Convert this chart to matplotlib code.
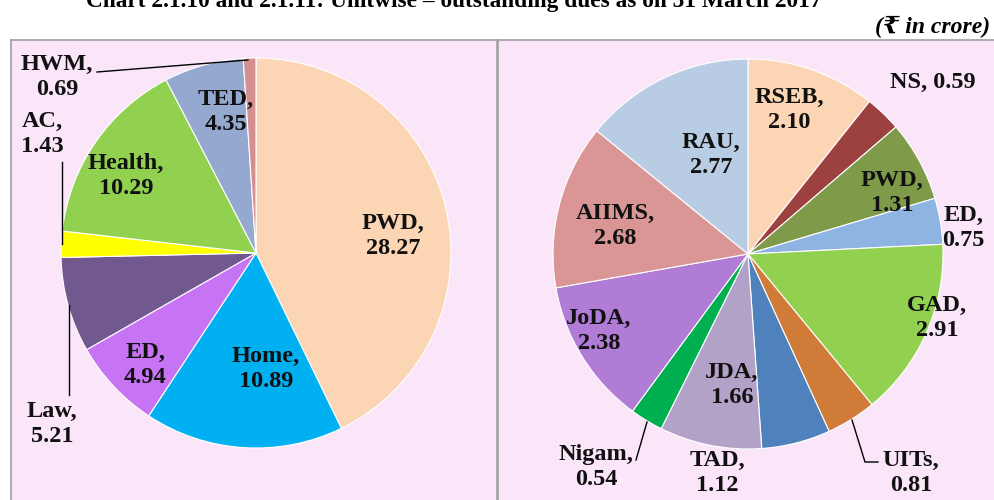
import matplotlib.pyplot as plt

# figure laid out in pixel units (995 x 500), y measured upward
W, H = 995, 500

# left pie: department-wise dues
left_labels = ['PWD', 'Home', 'ED', 'Law', 'AC', 'Health', 'TED', 'HWM']
left_values = [28.27, 10.89, 4.94, 5.21, 1.43, 10.29, 4.35, 0.69]
left_colors = ['#FCD5B5', '#00B0F0', '#C674F4', '#71598F', '#FFFF00',
               '#92D050', '#95A9D0', '#D48F91']

# right pie: unit-wise dues
right_labels = ['RSEB', 'NS', 'PWD', 'ED', 'GAD', 'UITs', 'TAD', 'JDA',
                'Nigam', 'JoDA', 'AIIMS', 'RAU']
right_values = [2.10, 0.59, 1.31, 0.75, 2.91, 0.81, 1.12, 1.66,
                0.54, 2.38, 2.68, 2.77]
right_colors = ['#FCD5B5', '#9C4140', '#7F9B4A', '#8DB4E2', '#92D050',
                '#D07B38', '#4F81BD', '#B3A2C7', '#00B050', '#B07CD6',
                '#D99694', '#B8CCE4']

# label positions (pixel x, pixel y from top)
left_pos = [(393, 236), (266, 369), (145, 365), (52, 424), (42, 134),
            (126, 176), (226, 112), (57, 77)]
right_pos = [(789, 110), (933, 82), (892, 193), (963, 228), (937, 318),
             (911, 473), (717, 473), (732, 385), (596, 467), (599, 331),
             (615, 226), (711, 155)]

serif = ['Liberation Serif', 'DejaVu Serif', 'DejaVu Sans']
bg = '#FAE6F8'

fig = plt.figure(figsize=(W / 100, H / 100), dpi=100)
fig.patch.set_facecolor('white')


def panel(x0, x1, top):
    ax = fig.add_axes([x0 / W, 0, (x1 - x0) / W, (H - top) / H])
    ax.set_facecolor(bg)
    for s in ax.spines.values():
        s.set_color('#A0A0A0')
        s.set_linewidth(1.2)
    ax.spines['bottom'].set_visible(False)
    return ax


def draw_pie(ax, values, colors, labels, pos, cx, cy, r, name_sep):
    ax.pie(values, colors=colors, startangle=90, counterclock=False,
           center=(cx, H - cy), radius=r, frame=True,
           wedgeprops=dict(edgecolor='white', linewidth=0.8))
    for lab, v, (px, py) in zip(labels, values, pos):
        sep = name_sep.get(lab, '\n')
        ax.text(px, H - py, f'{lab},{sep}{v:.2f}', ha='center', va='center',
                fontsize=17.5, fontweight='bold', family=serif,
                linespacing=1.27, color='#111111')


axl = panel(11, 497, 40)
draw_pie(axl, left_values, left_colors, left_labels, left_pos,
         256, 253, 195, {})
axl.set_xlim(11, 497)
axl.set_ylim(0, H - 40)

axr = panel(498, 1000, 40)
draw_pie(axr, right_values, right_colors, right_labels, right_pos,
         748, 254, 195, {'NS': ' '})
axr.set_xlim(498, 1000)
axr.set_ylim(0, H - 40)

for ax in (axl, axr):
    ax.set_xticks([])
    ax.set_yticks([])

# leader lines
lk = dict(color='black', linewidth=1.0)
axl.plot([97, 248], [H - 72, H - 60], **lk)
axl.plot([62, 62], [H - 162, H - 244], **lk)
axl.plot([69, 69], [H - 305, H - 395], **lk)
axr.plot([852, 865, 878], [H - 420, H - 462, H - 462], **lk)
axr.plot([647, 636], [H - 422, H - 460], **lk)

# titles (the chart heading is cropped at the top edge, as in the source)
fig.text(454 / W, 1 - 7 / H,
         'Chart 2.1.10 and 2.1.11: Unitwise \u2013 outstanding dues as on 31 March 2017',
         ha='center', va='baseline', fontsize=16.8, fontweight='bold', family=serif)
fig.text(990 / W, 1 - 27 / H, '(\u20b9 in crore)', ha='right', va='center',
         fontsize=17, fontweight='bold', fontstyle='italic', family=serif)

fig.savefig('out.png', dpi=100)
